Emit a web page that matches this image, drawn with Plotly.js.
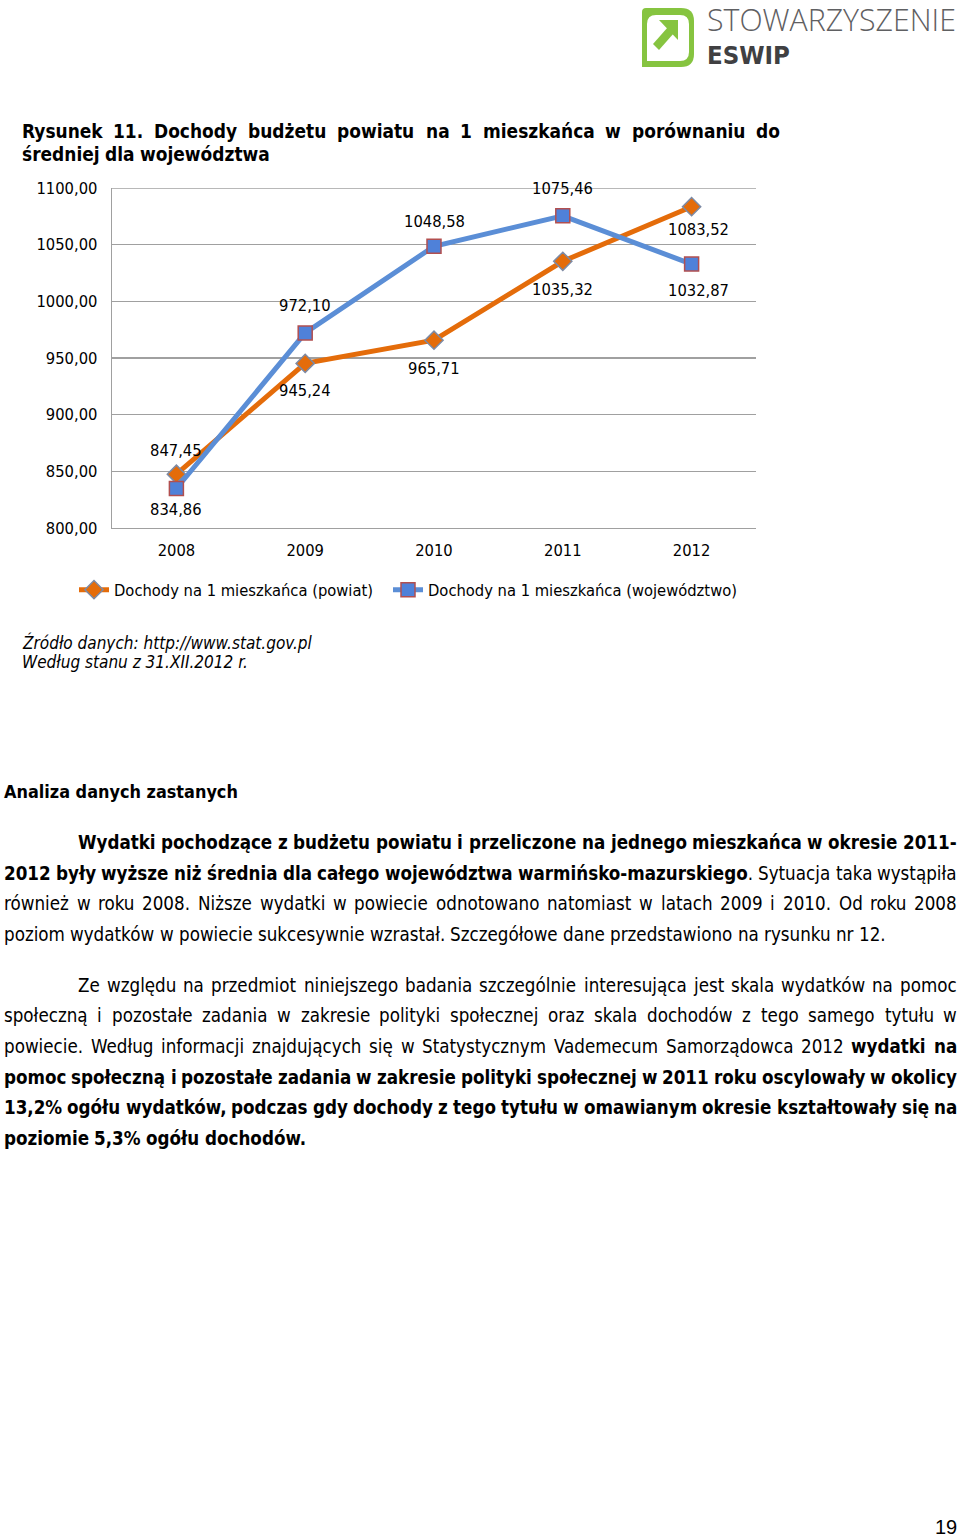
<!DOCTYPE html>
<html><head><meta charset="utf-8">
<script src="https://cdn.plot.ly/plotly-3.0.1.min.js"></script>
<style>html,body{margin:0;padding:0;background:#fff;} #chart{width:960px;height:1539px;}</style>
</head><body><div id="chart"></div>
<script>
// ---------- DATA ----------
const years = ['2008', '2009', '2010', '2011', '2012'];
const powiat = [847.45, 945.24, 965.71, 1035.32, 1083.52];
const wojewodztwo = [834.86, 972.10, 1048.58, 1075.46, 1032.87];
const seriesNames = ['Dochody na 1 mieszkańca (powiat)', 'Dochody na 1 mieszkańca (województwo)'];
const yTicks = [800, 850, 900, 950, 1000, 1050, 1100];

// ---------- TEXT ----------
const titleLines = ['Rysunek 11. Dochody budżetu powiatu na 1 mieszkańca w porównaniu do', 'średniej dla województwa'];
const sourceLines = ['Źródło danych: http://www.stat.gov.pl', 'Według stanu z 31.XII.2012 r.'];
const heading = 'Analiza danych zastanych';
const para1 = [
  [['Wydatki pochodzące z budżetu powiatu i przeliczone na jednego mieszkańca w okresie 2011-', 1]],
  [['2012 były wyższe niż średnia dla całego województwa warmińsko-mazurskiego', 1], ['. Sytuacja taka wystąpiła', 0]],
  [['również w roku 2008. Niższe wydatki w powiecie odnotowano natomiast w latach 2009 i 2010. Od roku 2008', 0]],
  [['poziom wydatków w powiecie sukcesywnie wzrastał. Szczegółowe dane przedstawiono na rysunku nr 12.', 0]]
];
const para2 = [
  [['Ze względu na przedmiot niniejszego badania szczególnie interesująca jest skala wydatków na pomoc', 0]],
  [['społeczną i pozostałe zadania w zakresie polityki społecznej oraz skala dochodów z tego samego tytułu w', 0]],
  [['powiecie. Według informacji znajdujących się w Statystycznym Vademecum Samorządowca 2012 ', 0], ['wydatki na', 1]],
  [['pomoc społeczną i pozostałe zadania w zakresie polityki społecznej w 2011 roku oscylowały w okolicy', 1]],
  [['13,2% ogółu wydatków, podczas gdy dochody z tego tytułu w omawianym okresie kształtowały się na', 1]],
  [['poziomie 5,3% ogółu dochodów.', 1]]
];
const logoTop = 'STOWARZYSZENIE';
const logoBottom = 'ESWIP';
const pageNumber = '19';

// ---------- helpers ----------
const cv = document.createElement('canvas').getContext('2d');
function fontStr(fam, size, bold, italic, weight) {
  return (italic ? 'italic ' : '') + (weight ? weight + ' ' : (bold ? 'bold ' : '')) + size + 'px ' + fam;
}
function tw(text, fam, size, bold, italic, weight) { cv.font = fontStr(fam, size, bold, italic, weight); return cv.measureText(text).width; }
function hasFont(f) {
  const s = 'abcdefghijklmnopqrstuvwxyz ABCDEFG 0123';
  return tw(s, '"' + f + '", monospace', 20) !== tw(s, 'monospace', 20);
}
function pick(list) { for (const f of list) if (hasFont(f)) return '"' + f + '"'; return '"' + list[list.length - 1] + '"'; }
function fit(text, fam, bold, italic, target, weight) { return 20 * target / tw(text, fam, 20, bold, italic, weight); }

const tahoma = pick(['DejaVu Sans Condensed', 'DejaVu Sans']);
const narrow = pick(['Liberation Sans Narrow', 'DejaVu Sans Condensed', 'Liberation Sans']);
const arial = '"Liberation Sans"';

// plot area in pixels
const L = 112, R = 756, T = 188, B = 528;
const PX = x => (x - L) / (R - L);
const PY = y => (B - y) / (B - T);

const ann = [];
const shapes = [];
function addText(text, x, y, fam, size, opts) {
  opts = opts || {};
  ann.push({
    xref: 'paper', yref: 'paper', x: PX(x), y: PY(y), text: text, showarrow: false,
    xanchor: opts.xanchor || 'left', yanchor: 'middle', borderpad: 0, borderwidth: 0,
    font: { family: fam, size: size, color: opts.color || '#000', weight: opts.weight, style: opts.italic ? 'italic' : undefined }
  });
}
function esc(s) { return s.replace(/&/g, '&amp;').replace(/</g, '&lt;'); }
function tokenize(segs) {
  const tokens = []; let cur = null;
  for (const [txt, b] of segs) {
    for (const ch of txt) {
      if (ch === ' ') { if (cur) tokens.push(cur); cur = null; continue; }
      if (!cur) cur = [];
      const last = cur[cur.length - 1];
      if (last && last[1] === b) last[0] += ch; else cur.push([ch, b]);
    }
  }
  if (cur) tokens.push(cur);
  return tokens;
}
function layoutLine(segs, x0, x1, y, fam, size, justify) {
  const tokens = tokenize(segs);
  const widths = tokens.map(t => t.reduce((s, p) => s + tw(p[0], fam, size, p[1]), 0));
  const total = widths.reduce((a, b) => a + b, 0);
  const gap = justify && tokens.length > 1 ? (x1 - x0 - total) / (tokens.length - 1) : tw(' ', fam, size, false);
  let x = x0;
  tokens.forEach((t, i) => {
    const html = t.map(p => p[1] ? '<b>' + esc(p[0]) + '</b>' : esc(p[0])).join('');
    addText(html, x, y, fam, size);
    x += widths[i] + gap;
  });
}

// ---------- sizes fitted to the page ----------
const tickSize = fit('1100,00', tahoma, false, false, 61);
const titleSize = fit(titleLines[1], tahoma, true, false, 249);
const srcSize = fit(sourceLines[0], tahoma, false, true, 289);
const bodySize = fit(para1[3][0][0], narrow, false, false, 882);
const headSize = fit(heading, narrow, true, false, 234);

// title
layoutLine([[titleLines[0], 1]], 22, 780, 131, tahoma, titleSize, true);
layoutLine([[titleLines[1], 1]], 22, 780, 154, tahoma, titleSize, false);
// source
addText(sourceLines[0], 22, 642, tahoma, srcSize, { italic: true });
addText(sourceLines[1], 22, 662, tahoma, srcSize, { italic: true });
// heading
addText(heading, 4, 791, narrow, headSize, { weight: 700 });
// paragraphs
const p1y = [842, 873, 903, 934];
para1.forEach((segs, i) => layoutLine(segs, i === 0 ? 78 : 4, 957, p1y[i], narrow, bodySize, i < para1.length - 1));
const p2y = [985, 1015, 1046, 1077, 1107, 1138];
para2.forEach((segs, i) => layoutLine(segs, i === 0 ? 78 : 4, 957, p2y[i], narrow, bodySize, i < para2.length - 1));
// page number
addText(pageNumber, 957, 1527, arial, 20, { xanchor: 'right' });

// logo
const green = '#86C440';
function pth(cmds) {
  return cmds.replace(/(-?\d+(?:\.\d+)?),(-?\d+(?:\.\d+)?)/g, (m, a, b) => PX(+a).toFixed(5) + ',' + PY(+b).toFixed(5));
}
shapes.push({ type: 'path', xref: 'paper', yref: 'paper', fillcolor: green, line: { width: 0 },
  path: pth('M 642,12 Q 642,8 646,8 L 681,8 Q 694,8 694,21 L 694,54 Q 694,67 681,67 L 642,67 Z') });
shapes.push({ type: 'path', xref: 'paper', yref: 'paper', fillcolor: '#ffffff', line: { width: 0 },
  path: pth('M 647,24 Q 647,15 656,15 L 680,15 Q 689,15 689,24 L 689,52 Q 689,61 680,61 L 647,61 Z') });
shapes.push({ type: 'path', xref: 'paper', yref: 'paper', fillcolor: green, line: { width: 0 },
  path: pth('M 659,20 L 678,20 L 678,40 Z') });
shapes.push({ type: 'path', xref: 'paper', yref: 'paper', fillcolor: green, line: { width: 0 },
  path: pth('M 653,44 L 668,27 L 674,33 L 659,50 Z') });
const logoTopFam = '"Open Sans"';
addText(logoTop, 707, 19, logoTopFam, fit(logoTop, logoTopFam, false, false, 249, 300), { color: '#5f6062', weight: 300 });
addText(logoBottom, 707, 55, narrow, fit(logoBottom, narrow, true, false, 83), { color: '#404042', weight: 700 });

// top gridline (at the range edge)
shapes.push({ type: 'line', xref: 'paper', yref: 'y', x0: 0, x1: 1, y0: yTicks[yTicks.length - 1], y1: yTicks[yTicks.length - 1],
  line: { color: '#A0A0A0', width: 1.3 } });

// data labels
const fmt = v => v.toFixed(2).replace('.', ',');
const powiatLabelPos = [-24, 27, 28, 28, 23];
const wojLabelPos = [21, -27, -25, -27, 26];
const labelXShift = [0, 0, 0, 0, 7];
years.forEach((yr, i) => {
  [[powiat, powiatLabelPos], [wojewodztwo, wojLabelPos]].forEach(([arr, pos]) => {
    ann.push({ xref: 'x', yref: 'y', x: i, y: arr[i], text: fmt(arr[i]), showarrow: false,
      yshift: -pos[i], xshift: labelXShift[i], font: { family: tahoma, size: tickSize, color: '#000' } });
  });
});

const traces = [
  { x: years, y: powiat, name: seriesNames[0], type: 'scatter', mode: 'lines+markers', hoverinfo: 'skip', legend: 'legend',
    line: { color: '#E46C0A', width: 5 },
    marker: { symbol: 'diamond', size: 14, color: '#E46C0A', line: { color: '#7C8AA5', width: 1.5 } } },
  { x: years, y: wojewodztwo, name: seriesNames[1], type: 'scatter', mode: 'lines+markers', hoverinfo: 'skip', legend: 'legend2',
    line: { color: '#5B8ED6', width: 5 },
    marker: { symbol: 'square', size: 14, color: '#4F81D9', line: { color: '#B24F4F', width: 1.5 } } }
];

const legendFont = { family: tahoma, size: tickSize, color: '#000' };
const layout = {
  width: 960, height: 1539,
  margin: { l: L, r: 960 - R, t: T, b: 1539 - B, pad: 0 },
  paper_bgcolor: '#fff', plot_bgcolor: '#fff',
  separators: ', ',
  showlegend: true,
  legend: { orientation: 'h', x: PX(74), xanchor: 'left', y: PY(590), yanchor: 'middle',
    font: legendFont, bgcolor: 'rgba(0,0,0,0)' },
  legend2: { orientation: 'h', x: PX(388), xanchor: 'left', y: PY(590), yanchor: 'middle',
    font: legendFont, bgcolor: 'rgba(0,0,0,0)' },
  xaxis: { type: 'category', range: [-0.5, 4.5], showgrid: false, showline: true, linecolor: '#A0A0A0', linewidth: 1.3,
    ticks: '', ticklabelstandoff: 7, tickfont: { family: tahoma, size: tickSize, color: '#000' }, fixedrange: true, zeroline: false },
  yaxis: { range: [800, 1100], tickvals: yTicks, tickformat: '.2f', showgrid: true, gridcolor: '#A0A0A0', gridwidth: 1.3,
    showline: true, linecolor: '#A0A0A0', linewidth: 1.3, ticks: '', ticklabelstandoff: 10,
    tickfont: { family: tahoma, size: tickSize, color: '#000' }, zeroline: false, fixedrange: true },
  annotations: ann,
  shapes: shapes
};
Plotly.newPlot('chart', traces, layout, { staticPlot: true, displayModeBar: false });
</script></body></html>
